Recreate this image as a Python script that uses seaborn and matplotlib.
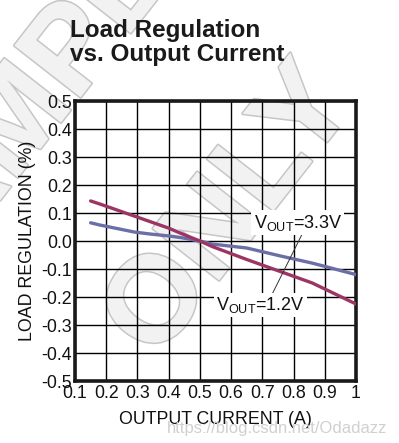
import pandas as pd
import seaborn as sns
import matplotlib.pyplot as plt
import matplotlib.patheffects as pe

# Curve data
current_33 = [0.15, 0.18, 0.29, 0.34, 0.40, 0.44, 0.50, 0.54, 0.65, 0.76, 0.86, 1.00]
reg_33 = [0.065, 0.057, 0.032, 0.025, 0.018, 0.012, 0.0, -0.011, -0.025, -0.054, -0.079, -0.12]
current_12 = [0.15, 0.18, 0.29, 0.40, 0.44, 0.50, 0.54, 0.65, 0.76, 0.86, 1.00]
reg_12 = [0.143, 0.132, 0.089, 0.046, 0.027, 0.0, -0.02, -0.066, -0.11, -0.15, -0.225]

x_ticks = [0.1, 0.2, 0.3, 0.4, 0.5, 0.6, 0.7, 0.8, 0.9, 1.0]
x_labels = ["0.1", "0.2", "0.3", "0.4", "0.5", "0.6", "0.7", "0.8", "0.9", "1"]
y_ticks = [0.5, 0.4, 0.3, 0.2, 0.1, 0.0, -0.1, -0.2, -0.3, -0.4, -0.5]
y_labels = ["0.5", "0.4", "0.3", "0.2", "0.1", "0.0", "-0.1", "-0.2", "-0.3", "-0.4", "-0.5"]

df = pd.concat([
    pd.DataFrame({"current": current_33, "reg": reg_33, "vout": "3.3V"}),
    pd.DataFrame({"current": current_12, "reg": reg_12, "vout": "1.2V"}),
])

sns.set_style("white")
plt.rcParams["font.family"] = ["Liberation Sans", "DejaVu Sans"]

fig = plt.figure(figsize=(3.99, 4.43), dpi=100)

# faint "SAMPLE ONLY" watermark behind everything
wm = dict(fontsize=88, fontweight="bold", color="#f2f2f2", zorder=-5,
          ha="center", va="center",
          path_effects=[pe.withStroke(linewidth=2.2, foreground="#c6c6c6")])
fig.text(0.58, 0.52, "ONLY", rotation=52, **wm)
fig.text(0.10, 0.78, "SAMPLE", rotation=52, **wm)

ax = fig.add_axes([75 / 399, 1 - 381 / 443, 281 / 399, 280 / 443])
ax.set_facecolor("none")
sns.lineplot(data=df, x="current", y="reg", hue="vout",
             palette={"3.3V": "#6b6fa6", "1.2V": "#9c3564"},
             linewidth=2.4, legend=False, ax=ax, zorder=3)

ax.set_xlim(0.1, 1.0)
ax.set_ylim(-0.5, 0.5)
ax.set_xticks(x_ticks)
ax.set_xticklabels(x_labels)
ax.set_yticks(y_ticks)
ax.set_yticklabels(y_labels)
ax.grid(True, color="black", linewidth=1.0, zorder=1)
ax.tick_params(length=0, labelsize=12.8, pad=2, colors="#111111")
ax.tick_params(axis="x", pad=3)
for s in ax.spines.values():
    s.set_visible(True)
    s.set_linewidth(2.6)
    s.set_color("#1a1a1a")

ax.set_xlabel("OUTPUT CURRENT (A)", fontsize=12.8, labelpad=6, color="#111111")
ax.set_ylabel("LOAD REGULATION (%)", fontsize=12.8, labelpad=4, color="#111111")

# leader line and curve labels
ax.plot([0.837, 0.725], [0.046, -0.204], color="#333333", linewidth=0.7, zorder=4)
box = dict(facecolor="white", edgecolor="none", pad=1.5)
ax.text(0.672, 0.048, r"V$_{\mathregular{OUT}}$=3.3V", fontsize=13, color="#111111",
        va="baseline", bbox=box, zorder=5)
ax.text(0.552, -0.246, r"V$_{\mathregular{OUT}}$=1.2V", fontsize=13, color="#111111",
        va="baseline", bbox=box, zorder=5)

fig.text(70 / 399, 1 - 19 / 443, "Load Regulation\nvs. Output Current", fontsize=17.5,
         fontweight="bold", ha="left", va="top", linespacing=1.08, color="#1a1a1a")

fig.text(0.97, 0.015, "https://blog.csdn.net/Odadazz", fontsize=12, color="#d0d0d0",
         ha="right", va="bottom", zorder=10)

fig.savefig("out.png", dpi=100)
